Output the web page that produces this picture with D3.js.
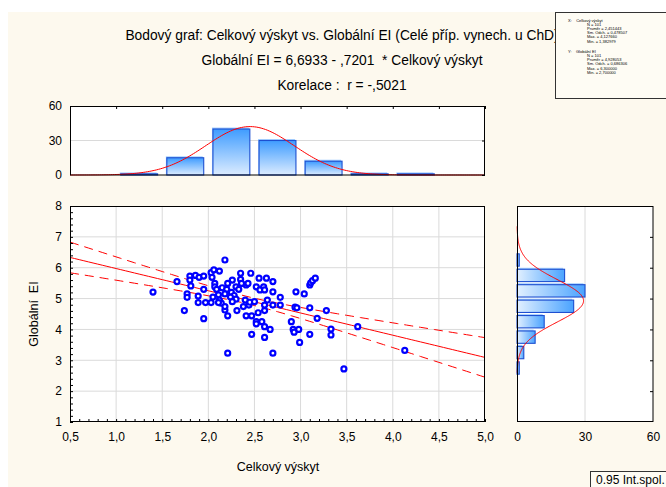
<!DOCTYPE html>
<html>
<head>
<meta charset="utf-8">
<script src="https://d3js.org/d3.v7.min.js"></script>
<style>
  body { margin: 0; background: #fff; }
  text { font-family: "Liberation Sans", Arial, sans-serif; fill: #000; }
</style>
</head>
<body>
<div id="chart"></div>
<script>
// scatter points: Celkový výskyt (x) vs Globální EI (y)
var celkovy = [1.40,1.66,1.74,1.77,1.77,1.80,1.86,1.90,1.95,1.80,1.81,1.89,1.89,1.95,1.95,1.97,
  2.03,2.18,2.03,2.06,2.12,2.04,2.07,2.07,2.09,2.21,2.26,2.35,2.35,2.41,2.46,2.36,2.43,2.21,2.21,2.18,
  2.31,2.38,2.44,2.41,2.47,2.47,2.11,2.12,2.14,2.18,2.11,2.15,2.20,2.25,2.28,2.18,2.24,2.30,2.30,2.26,2.33,2.05,
  2.55,2.63,2.70,2.52,2.56,2.60,2.61,2.70,2.78,2.64,2.70,2.78,2.61,2.61,2.54,2.52,2.58,2.61,2.67,2.61,2.70,2.52,
  2.95,2.94,2.96,2.90,2.92,2.93,2.99,2.40,2.45,2.50,
  3.04,3.10,3.11,3.13,3.16,3.10,3.28,3.18,2.98,3.10,3.33,3.33,3.62,4.13,3.47];
var globalniEI = [5.21,5.55,4.61,5.15,5.04,5.73,5.75,5.69,5.73,5.60,5.41,5.08,4.87,5.30,4.35,4.87,
  4.87,6.25,5.84,5.93,5.89,5.69,5.49,5.38,5.30,5.49,5.60,5.82,5.62,5.44,5.82,5.49,5.49,4.44,3.23,4.63,
  4.61,4.74,4.79,4.44,4.44,3.84,5.12,4.95,4.85,4.74,4.87,5.35,5.30,5.20,5.10,5.15,5.05,4.98,5.38,4.90,5.30,5.05,
  5.66,5.66,5.55,5.38,5.28,5.38,5.28,5.22,5.04,4.95,4.79,4.79,4.79,4.61,4.54,4.25,4.25,4.09,4.00,3.74,3.23,4.18,
  5.22,4.72,4.70,4.25,4.00,3.91,3.58,4.95,4.88,4.90,
  5.15,5.44,5.51,5.58,5.66,4.70,4.61,4.36,4.00,3.84,4.01,3.82,4.09,3.32,2.72];

// histogram of Celkový výskyt (bins of 0,5 starting at 0,5)
var xBinStarts = [0.5,1.0,1.5,2.0,2.5,3.0,3.5,4.0,4.5];
var xBinCounts = [0,1,15,40,30,12,1,1,0];
// histogram of Globální EI (bins of 0,5 starting at 1,0)
var yBinStarts = [1.0,1.5,2.0,2.5,3.0,3.5,4.0,4.5,5.0,5.5,6.0,6.5,7.0,7.5];
var yBinCounts = [0,0,0,1,3,8,12,25,30,21,1,0,0,0];

// descriptive stats from the box
var statN = 101;
var xMean = 2.451443, xSd = 0.478507;
var yMean = 4.928053, ySd = 0.686306;
var slope = -0.7201, intercept = 6.6933, corr = -0.5021;

var xTicks = [0.5,1.0,1.5,2.0,2.5,3.0,3.5,4.0,4.5,5.0];
var yTicks = [1,2,3,4,5,6,7,8];
var countTicks = [0,30,60];

var statsLines = [
  ["X:", "Celkový výskyt"], ["", "N = 101"], ["", "Průměr = 2,451443"], ["", "Sm. Odch. = 0,478507"],
  ["", "Max. = 4,127660"], ["", "Min. = 1,382979"],
  ["Y:", "Globální EI"], ["", "N = 101"], ["", "Průměr = 4,928053"], ["", "Sm. Odch. = 0,686306"],
  ["", "Max. = 6,300000"], ["", "Min. = 2,700000"]
];
var titleLines = [
  "Bodový graf: Celkový výskyt vs. Globální EI (Celé příp. vynech. u ChD)",
  "Globální EI = 6,6933 - ,7201  * Celkový výskyt",
  "Korelace :  r = -,5021"
];

var width = 666, height = 487;
var svg = d3.select("#chart").append("svg").attr("width", width).attr("height", height);

var defs = svg.append("defs");
var gv = defs.append("linearGradient").attr("id", "gv").attr("x1", 0).attr("y1", 0).attr("x2", 0).attr("y2", 1);
gv.append("stop").attr("offset", "0%").attr("stop-color", "#3f9cff");
gv.append("stop").attr("offset", "100%").attr("stop-color", "#dcecff");
var gh = defs.append("linearGradient").attr("id", "gh").attr("x1", 0).attr("y1", 0).attr("x2", 1).attr("y2", 0);
gh.append("stop").attr("offset", "0%").attr("stop-color", "#e2f0ff");
gh.append("stop").attr("offset", "100%").attr("stop-color", "#4aa3ff");
defs.append("clipPath").attr("id", "mainclip").append("rect")
  .attr("x", 70).attr("y", 206).attr("width", 415).attr("height", 216);

// cream background panel
svg.append("rect").attr("x", 8).attr("y", 12).attr("width", width - 8).attr("height", height - 12)
  .attr("fill", "#fdf9ee");

var fmt1 = function(d) { return d3.format(".1f")(d).replace(".", ","); };

// titles
svg.selectAll(".title").data(titleLines).enter().append("text")
  .attr("x", 342).attr("y", function(d, i) { return 40 + i * 25; })
  .attr("text-anchor", "middle").style("font-size", "13.8px").style("white-space", "pre")
  .text(function(d) { return d; });

// stats box
svg.append("rect").attr("x", 555.5).attr("y", 12.5).attr("width", 120).attr("height", 86)
  .attr("fill", "#fefcf4").attr("stroke", "#333");
svg.selectAll(".stat").data(statsLines).enter().append("text")
  .attr("x", function(d) { return d[0] ? 568 : 587; })
  .attr("y", function(d, i) { return 21.5 + i * 4.2 + (i >= 6 ? 6 : 0); })
  .style("font-size", "4px")
  .text(function(d) { return d[0] ? d[0] + "    " + d[1] : d[1]; })
  .style("white-space", "pre");

// ---------- main scatter ----------
var x = d3.scaleLinear().domain([0.5, 5]).range([70, 485]);
var y = d3.scaleLinear().domain([1, 8]).range([422, 206]);

svg.append("rect").attr("x", 70).attr("y", 206).attr("width", 415).attr("height", 216).attr("fill", "#fff");
svg.append("g").selectAll("line").data(xTicks.slice(1, -1)).enter().append("line")
  .attr("x1", function(d) { return x(d); }).attr("x2", function(d) { return x(d); })
  .attr("y1", 206).attr("y2", 422).attr("stroke", "#dadada");
svg.append("g").selectAll("line").data(yTicks.slice(1, -1)).enter().append("line")
  .attr("y1", function(d) { return y(d); }).attr("y2", function(d) { return y(d); })
  .attr("x1", 70).attr("x2", 485).attr("stroke", "#dadada");

// regression line and 0.95 confidence bands
var sxx = (statN - 1) * xSd * xSd;
var sRes = ySd * Math.sqrt(1 - corr * corr) * Math.sqrt((statN - 1) / (statN - 2));
var tVal = 1.984;
var xs = d3.range(0.5, 5.0001, 0.05);
function band(k) {
  return xs.map(function(v) {
    var se = sRes * Math.sqrt(1 / statN + (v - xMean) * (v - xMean) / sxx);
    return [v, intercept + slope * v + k * tVal * se];
  });
}
var line = d3.line().x(function(d) { return x(d[0]); }).y(function(d) { return y(d[1]); });
var reg = svg.append("g").attr("clip-path", "url(#mainclip)");
reg.append("path").datum(band(0)).attr("d", line).attr("fill", "none").attr("stroke", "#ff0000").attr("stroke-width", 1);
[-1, 1].forEach(function(k) {
  reg.append("path").datum(band(k)).attr("d", line).attr("fill", "none")
    .attr("stroke", "#ff0000").attr("stroke-width", 1).attr("stroke-dasharray", "9,6");
});

reg.selectAll("circle").data(celkovy).enter().append("circle")
  .attr("cx", function(d) { return x(d); })
  .attr("cy", function(d, i) { return y(globalniEI[i]); })
  .attr("r", 2.5).attr("fill", "#fff").attr("stroke", "#0000ff").attr("stroke-width", 2.2);

// axes of main plot
svg.append("g").attr("transform", "translate(0,422)")
  .call(d3.axisBottom(x).tickValues(d3.range(0.5, 5.001, 0.1)).tickSize(-3).tickFormat(""))
  .call(function(g) { g.select(".domain").remove(); g.selectAll("line").attr("stroke", "#000"); });
svg.append("g").attr("transform", "translate(70,0)")
  .call(d3.axisLeft(y).tickValues(d3.range(1, 8.001, 0.2)).tickSize(-3).tickFormat(""))
  .call(function(g) { g.select(".domain").remove(); g.selectAll("line").attr("stroke", "#000"); });
svg.append("g").attr("transform", "translate(0,422)")
  .call(d3.axisBottom(x).tickValues(xTicks).tickSize(0).tickPadding(10).tickFormat(fmt1))
  .call(function(g) { g.select(".domain").remove(); g.selectAll("text").style("font-size", "12px"); });
svg.append("g").attr("transform", "translate(70,0)")
  .call(d3.axisLeft(y).tickValues(yTicks).tickSize(0).tickPadding(8).tickFormat(d3.format("d")))
  .call(function(g) { g.select(".domain").remove(); g.selectAll("text").style("font-size", "12px"); });
svg.append("rect").attr("x", 70.5).attr("y", 206.5).attr("width", 414).attr("height", 215)
  .attr("fill", "none").attr("stroke", "#000");

svg.append("text").attr("x", 278).attr("y", 471).attr("text-anchor", "middle")
  .style("font-size", "12.5px").text("Celkový výskyt");
svg.append("text").attr("transform", "translate(38,314) rotate(-90)").attr("text-anchor", "middle")
  .style("font-size", "12.5px").style("white-space", "pre").text("Globální  EI");

// ---------- top histogram ----------
var hy = d3.scaleLinear().domain([0, 60]).range([175, 106]);
svg.append("rect").attr("x", 70).attr("y", 106).attr("width", 415).attr("height", 69).attr("fill", "#fff");
svg.append("line").attr("x1", 70).attr("x2", 485).attr("y1", hy(30)).attr("y2", hy(30)).attr("stroke", "#dadada");
var topBars = svg.append("g");
xBinStarts.forEach(function(b, i) {
  if (!xBinCounts[i]) return;
  var x0 = x(b), x1 = x(b + 0.5), pad = (x1 - x0) * 0.1;
  topBars.append("rect").attr("x", x0 + pad - 1).attr("y", hy(xBinCounts[i]) - 1.5)
    .attr("width", x1 - x0 - 2 * pad).attr("height", hy(0) - hy(xBinCounts[i]) + 1.5).attr("fill", "#a9d2ff");
  topBars.append("rect").attr("x", x0 + pad).attr("y", hy(xBinCounts[i]))
    .attr("width", x1 - x0 - 2 * pad).attr("height", hy(0) - hy(xBinCounts[i]))
    .attr("fill", "url(#gv)").attr("stroke", "#1d4fd0").attr("stroke-width", 1.1);
});
var nx = d3.range(0.5, 5.0001, 0.02).map(function(v) {
  var z = (v - xMean) / xSd;
  return [v, statN * 0.5 / (xSd * Math.sqrt(2 * Math.PI)) * Math.exp(-0.5 * z * z)];
});
svg.append("path").datum(nx).attr("fill", "none").attr("stroke", "#ff0000").attr("stroke-width", 1)
  .attr("d", d3.line().x(function(d) { return x(d[0]); }).y(function(d) { return hy(d[1]); }));
svg.append("g").attr("transform", "translate(0,106)")
  .call(d3.axisTop(x).tickValues(xTicks).tickSize(-3).tickFormat(""))
  .call(function(g) { g.select(".domain").remove(); g.selectAll("line").attr("stroke", "#000"); });
svg.append("g").attr("transform", "translate(485,0)")
  .call(d3.axisRight(hy).tickValues(countTicks).tickSize(-3).tickFormat(""))
  .call(function(g) { g.select(".domain").remove(); g.selectAll("line").attr("stroke", "#000"); });
svg.append("g").attr("transform", "translate(70,0)")
  .call(d3.axisLeft(hy).tickValues(countTicks).tickSize(0).tickPadding(8))
  .call(function(g) { g.select(".domain").remove(); g.selectAll("text").style("font-size", "12px"); });
svg.append("rect").attr("x", 70.5).attr("y", 106.5).attr("width", 414).attr("height", 68.5)
  .attr("fill", "none").attr("stroke", "#000");

// ---------- right histogram ----------
var rx = d3.scaleLinear().domain([0, 60]).range([517, 653]);
svg.append("rect").attr("x", 517).attr("y", 206).attr("width", 136).attr("height", 216).attr("fill", "#fff");
svg.append("line").attr("x1", rx(30)).attr("x2", rx(30)).attr("y1", 206).attr("y2", 422).attr("stroke", "#dadada");
var sideBars = svg.append("g");
yBinStarts.forEach(function(b, i) {
  if (!yBinCounts[i]) return;
  var y0 = y(b + 0.5), y1 = y(b), pad = (y1 - y0) * 0.1;
  sideBars.append("rect").attr("x", rx(0)).attr("y", y0 + pad - 1.5)
    .attr("width", rx(yBinCounts[i]) - rx(0) - 1.5).attr("height", y1 - y0 - 2 * pad).attr("fill", "#a9d2ff");
  sideBars.append("rect").attr("x", rx(0)).attr("y", y0 + pad)
    .attr("width", rx(yBinCounts[i]) - rx(0)).attr("height", y1 - y0 - 2 * pad)
    .attr("fill", "url(#gh)").attr("stroke", "#1d4fd0").attr("stroke-width", 1.1);
});
var ny = d3.range(2.6, 7.35, 0.02).map(function(v) {
  var z = (v - yMean) / ySd;
  return [v, statN * 0.5 / (ySd * Math.sqrt(2 * Math.PI)) * Math.exp(-0.5 * z * z)];
});
svg.append("path").datum(ny).attr("fill", "none").attr("stroke", "#ff0000").attr("stroke-width", 1)
  .attr("d", d3.line().x(function(d) { return rx(d[1]); }).y(function(d) { return y(d[0]); }));
svg.append("g").attr("transform", "translate(653,0)")
  .call(d3.axisRight(y).tickValues(yTicks.slice(1, -1)).tickSize(-3).tickFormat(""))
  .call(function(g) { g.select(".domain").remove(); g.selectAll("line").attr("stroke", "#000"); });
svg.append("g").attr("transform", "translate(0,422)")
  .call(d3.axisBottom(rx).tickValues(countTicks).tickSize(0).tickPadding(10))
  .call(function(g) { g.select(".domain").remove(); g.selectAll("text").style("font-size", "12px"); });
svg.append("rect").attr("x", 517.5).attr("y", 206.5).attr("width", 135.5).attr("height", 215)
  .attr("fill", "none").attr("stroke", "#000");

// legend box (cut at the edge)
svg.append("rect").attr("x", 590.5).attr("y", 471.5).attr("width", 90).attr("height", 20)
  .attr("fill", "#fefcf4").attr("stroke", "#333");
svg.append("text").attr("x", 596).attr("y", 484).style("font-size", "12px").text("0.95 Int.spol.");
</script>
</body>
</html>
